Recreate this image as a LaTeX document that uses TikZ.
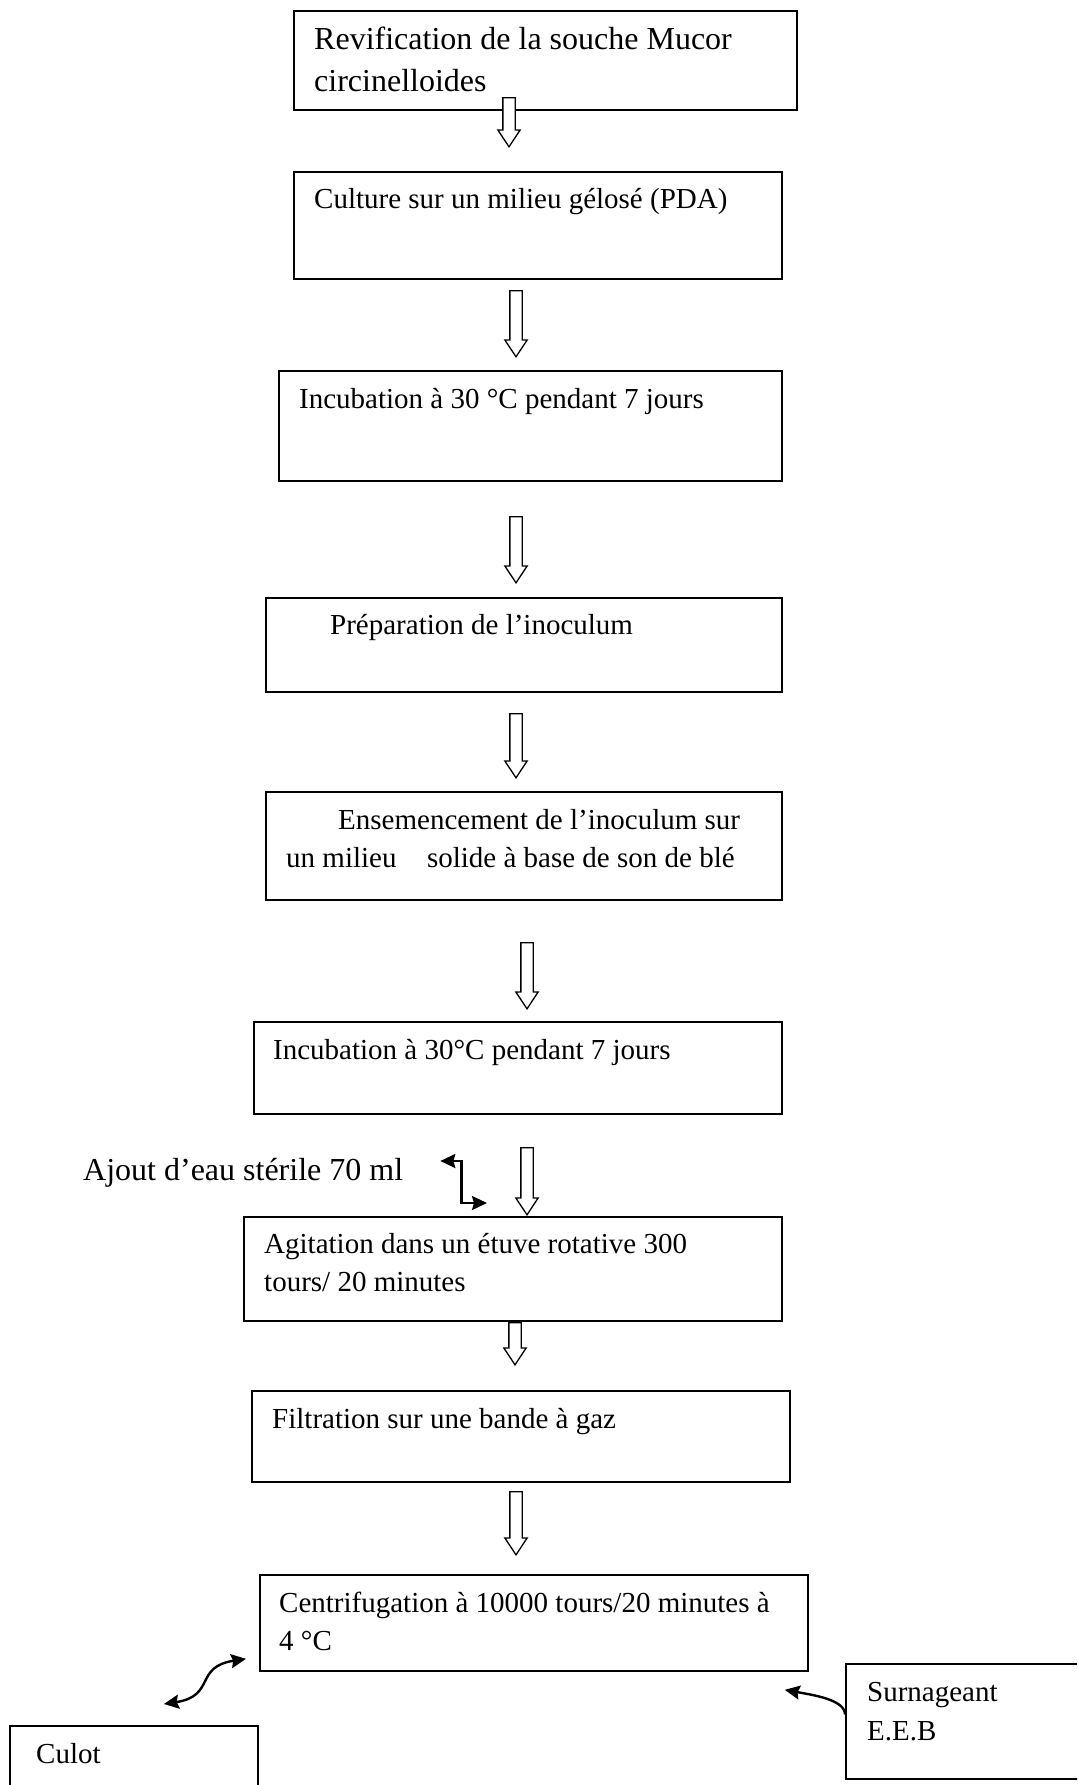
\documentclass[tikz,border=0pt]{standalone}
\usepackage{fontspec}
\setmainfont{Liberation Serif}
\usepackage{xcolor}
\usepackage{tikz}
\usetikzlibrary{arrows.meta, calc, shapes.arrows}
\newcommand{\boxlines}[2]{\vtop{\hbox{#1}\hbox{#2}}}

\tikzset{
  stepbox/.style={draw=black, line width=1.8pt, rectangle, inner sep=0pt, anchor=north west},
  steptext/.style={anchor=base west, inner sep=0pt, text=black, font=\fontsize{29}{35}\selectfont},
  flowarrow/.style={single arrow, draw=black, fill=white, line width=1.3pt, rotate=-90, anchor=tip,
    inner xsep=0pt, inner ysep=5.5pt, single arrow head extend=5pt, single arrow tip angle=67,
    single arrow head indent=0pt},
  sidearrow/.style={line width=2.4pt},
}

\begin{document}
\begin{tikzpicture}[x=1pt, y=-1pt, >={Stealth[length=15pt, width=14pt, inset=2pt]}]
\useasboundingbox (0,0) rectangle (1077,1785);
\clip (0,0) rectangle (1077,1785);
\fill[white] (0,0) rectangle (1077,1785);
% boxes
\node[stepbox, minimum width=503pt, minimum height=99pt] (revif) at (293,10) {};
\node[stepbox, minimum width=488pt, minimum height=107pt] (culture) at (293,171) {};
\node[stepbox, minimum width=503pt, minimum height=110pt] (incub1) at (278,370) {};
\node[stepbox, minimum width=516pt, minimum height=94pt] (prep) at (265,597) {};
\node[stepbox, minimum width=516pt, minimum height=108pt] (ensem) at (265,791) {};
\node[stepbox, minimum width=528pt, minimum height=92pt] (incub2) at (253,1021) {};
\node[stepbox, minimum width=538pt, minimum height=104pt] (agit) at (243,1216) {};
\node[stepbox, minimum width=538pt, minimum height=91pt] (filtr) at (251,1390) {};
\node[stepbox, minimum width=548pt, minimum height=96pt] (centri) at (259,1574) {};
\node[stepbox, minimum width=248pt, minimum height=90pt] (culot) at (9,1725) {};
\node[stepbox, minimum width=260pt, minimum height=115pt] (surn) at (845,1663) {};
% texts
\node[steptext, font=\fontsize{32}{41}\selectfont] (revif-t) at (314,50)
  {\boxlines{Revification de la souche Mucor}{circinelloides}};
\node[steptext] (culture-t) at (314,208) {Culture sur un milieu gélosé (PDA)};
\node[steptext] (incub1-t) at (299,408) {Incubation à 30 °C pendant 7 jours};
\node[steptext] (prep-t) at (330,634) {Préparation de l’inoculum};
\node[steptext, font=\fontsize{29}{38}\selectfont] (ensem-t) at (286,829)
  {\boxlines{\hspace{52pt}Ensemencement de l’inoculum sur}{un milieu\hspace{30.5pt}solide à base de son de blé}};
\node[steptext] (incub2-t) at (273,1059) {Incubation à 30°C pendant 7 jours};
\node[steptext, font=\fontsize{29}{38}\selectfont] (agit-t) at (264,1253)
  {\boxlines{Agitation dans un étuve rotative 300}{tours/ 20 minutes}};
\node[steptext, font=\fontsize{32}{37}\selectfont] (ajout) at (83,1180) {Ajout d’eau stérile 70 ml};
\node[steptext] (filtr-t) at (272,1428) {Filtration sur une bande à gaz};
\node[steptext, font=\fontsize{29}{38}\selectfont] (centri-t) at (279,1612)
  {\boxlines{Centrifugation à 10000 tours/20 minutes à}{4 °C}};
\node[steptext] (culot-t) at (36,1763) {Culot};
\node[steptext, font=\fontsize{29}{39}\selectfont] (surn-t) at (867,1701) {\boxlines{Surnageant}{E.E.B}};
% hollow arrows
\node[flowarrow, minimum height=49pt] (a1) at (509,148) {};
\node[flowarrow, minimum height=66pt] (a2) at (516,358) {};
\node[flowarrow, minimum height=66pt] (a3) at (516,584) {};
\node[flowarrow, minimum height=64pt] (a4) at (516,779) {};
\node[flowarrow, minimum height=66pt] (a5) at (527,1010) {};
\node[flowarrow, minimum height=67pt] (a6) at (527,1216) {};
\node[flowarrow, minimum height=42pt] (a7) at (515,1366) {};
\node[flowarrow, minimum height=63pt] (a8) at (516,1556) {};
% side connectors
\coordinate (ajout-end) at ($(ajout.base east)+(37,-19)$);
\coordinate (agit-end) at ($(a6.tip)+(-40,-13)$);
\draw[sidearrow, <->] (ajout-end) -| ($(ajout-end)!.45!(agit-end)$) |- (agit-end);
\coordinate (culot-end) at ($(culot.north)+(30,-21)$);
\coordinate (centri-end) at ($(centri.south west)+(-13,-13)$);
\draw[sidearrow, <->] (culot-end) .. controls ($(culot-end)+(52,-8)$) and ($(centri-end)+(-52,8)$) .. (centri-end);
\coordinate (surn-start) at ($(surn.west)+(0,-7)$);
\coordinate (surn-end) at ($(centri.south east)+(-24,18)$);
\draw[sidearrow, ->] (surn-start) .. controls ($(surn-start)+(0,-15)$) and ($(surn-end)+(27,5)$) .. (surn-end);
\end{tikzpicture}
\end{document}
